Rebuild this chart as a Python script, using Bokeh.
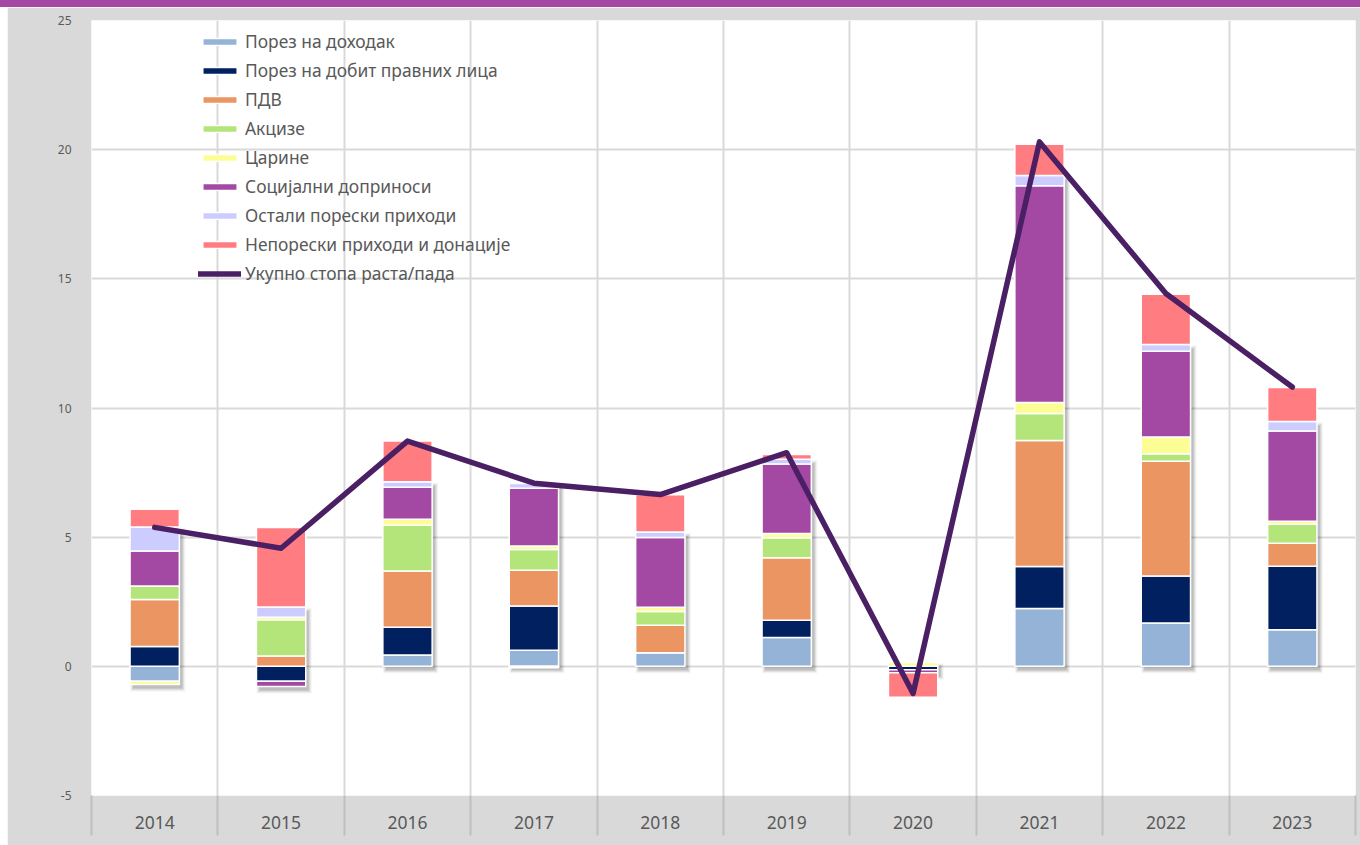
import numpy as np
from bokeh.plotting import figure
from bokeh.models import FixedTicker, Legend, LegendItem, Div, Spacer
from bokeh.layouts import column, row
from bokeh.embed import file_html
from bokeh.resources import INLINE

years = ["2014", "2015", "2016", "2017", "2018", "2019", "2020", "2021", "2022", "2023"]

income_tax = [-0.58, 0.00, 0.44, 0.62, 0.53, 1.12, 0.00, 2.24, 1.68, 1.42]
profit_tax = [0.77, -0.58, 1.07, 1.72, 0.00, 0.66, -0.13, 1.62, 1.82, 2.45]
vat = [1.82, 0.40, 2.18, 1.38, 1.06, 2.42, 0.00, 4.88, 4.44, 0.89]
excises = [0.52, 1.40, 1.77, 0.80, 0.53, 0.78, 0.00, 1.05, 0.29, 0.74]
customs = [-0.12, 0.10, 0.23, 0.14, 0.17, 0.16, 0.15, 0.42, 0.65, 0.12]
social = [1.35, -0.20, 1.24, 2.23, 2.70, 2.69, -0.12, 8.39, 3.32, 3.49]
other_tax = [0.93, 0.40, 0.22, 0.19, 0.21, 0.19, 0.00, 0.40, 0.26, 0.37]
non_tax = [0.69, 3.07, 1.57, -0.05, 1.44, 0.18, -0.95, 1.21, 1.94, 1.31]
total = [5.38, 4.57, 8.72, 7.09, 6.65, 8.27, -1.05, 20.30, 14.43, 10.81]

y_ticks = [-5, 0, 5, 10, 15, 20, 25]

names = ["Порез на доходак", "Порез на добит правних лица", "ПДВ", "Акцизе", "Царине",
         "Социјални доприноси", "Остали порески приходи", "Непорески приходи и донације"]
line_name = "Укупно стопа раста/пада"
colors = ["#95b3d7", "#002060", "#eb9662", "#b3e57b", "#fdfd96", "#a349a4", "#ccccff", "#ff7c80"]
series = [income_tax, profit_tax, vat, excises, customs, social, other_tax, non_tax]

xs = np.arange(len(years), dtype=float)
BAR_W = 0.39

p = figure(width=1353, height=838, x_range=(-0.5, 9.5), y_range=(-5, 25),
           output_backend="svg", toolbar_location=None,
           min_border_left=84, min_border_right=5, min_border_top=13, min_border_bottom=50,
           border_fill_color="#d9d9d9", background_fill_color="white", outline_line_color=None)

# stack computation (positives up, negatives down, in series order)
pos = np.zeros(len(xs))
neg = np.zeros(len(xs))
stacks = []
for vals in series:
    v = np.array(vals, dtype=float)
    bottom = np.where(v >= 0, pos, neg)
    top = bottom + v
    pos = np.where(v >= 0, top, pos)
    neg = np.where(v < 0, top, neg)
    stacks.append((bottom, top))

# soft shadow of all series except the last (non-tax revenue)
lo = np.minimum.reduce([np.minimum(b, t) for b, t in stacks[:-1]])
hi = np.maximum.reduce([np.maximum(b, t) for b, t in stacks[:-1]])
px_x = 1.0 / 126.4
px_y = 30.0 / 775.0
for k, a in [(6, 0.04), (4, 0.06), (2, 0.08), (0, 0.10)]:
    p.vbar(x=xs + 3 * px_x, bottom=lo - 4 * px_y - k * px_y * 0.5, top=hi - 4 * px_y + k * px_y * 0.5,
           width=BAR_W + k * px_x, fill_color="black", fill_alpha=a, line_color=None)

items = []
for (bottom, top), name, color in zip(stacks, names, colors):
    r = p.vbar(x=xs, bottom=bottom, top=top, width=BAR_W, fill_color=color,
               line_color="white", line_width=1.5)
    items.append(LegendItem(label=name, renderers=[r]))

lr = p.line(x=xs, y=total, line_color="#4a1f63", line_width=5.5,
            line_cap="round", line_join="round")
items.append(LegendItem(label=line_name, renderers=[lr]))

# axes
boundaries = [i - 0.5 for i in range(len(years) + 1)]
p.xaxis.ticker = FixedTicker(ticks=list(xs), minor_ticks=boundaries)
p.xaxis.major_label_overrides = {i: y for i, y in enumerate(years)}
p.xaxis.major_tick_line_color = None
p.xaxis.major_tick_out = 0
p.xaxis.major_tick_in = 0
p.xaxis.minor_tick_out = 40
p.xaxis.minor_tick_in = 0
p.xaxis.minor_tick_line_color = "#bfbfbf"
p.xaxis.minor_tick_line_width = 2
p.xaxis.axis_line_color = None
p.xaxis.major_label_text_font = "Noto Sans"
p.xaxis.major_label_text_font_size = "17.5px"
p.xaxis.major_label_text_color = "#595959"
p.xaxis.major_label_standoff = -20

p.yaxis.ticker = FixedTicker(ticks=y_ticks)
p.yaxis.major_label_overrides = {t: str(t) for t in y_ticks}
p.yaxis.axis_line_color = None
p.yaxis.major_tick_line_color = None
p.yaxis.minor_tick_line_color = None
p.yaxis.major_label_text_font = "Noto Sans"
p.yaxis.major_label_text_font_size = "12px"
p.yaxis.major_label_text_color = "#595959"
p.yaxis.major_label_standoff = 14

p.xgrid.ticker = FixedTicker(ticks=boundaries)
p.xgrid.grid_line_color = "#d9d9d9"
p.xgrid.grid_line_width = 2
p.ygrid.grid_line_color = "#d9d9d9"
p.ygrid.grid_line_width = 2

legend = Legend(items=items, location=(107, 510), orientation="vertical",
                glyph_width=43, glyph_height=9, label_height=22, spacing=5,
                label_standoff=4, padding=0, margin=0,
                label_text_font="Noto Sans", label_text_font_size="17.4px",
                label_text_color="#595959", background_fill_alpha=0,
                border_line_color=None)
p.add_layout(legend, "center")

stripe = Div(width=1360, height=7, margin=0, styles={"background-color": "#a349a4"})
gap = Spacer(width=7, height=838, margin=0)
layout = column(stripe, row(gap, p, spacing=0, margin=0), spacing=0, margin=0)

open("out.html", "w").write(file_html(layout, INLINE))
